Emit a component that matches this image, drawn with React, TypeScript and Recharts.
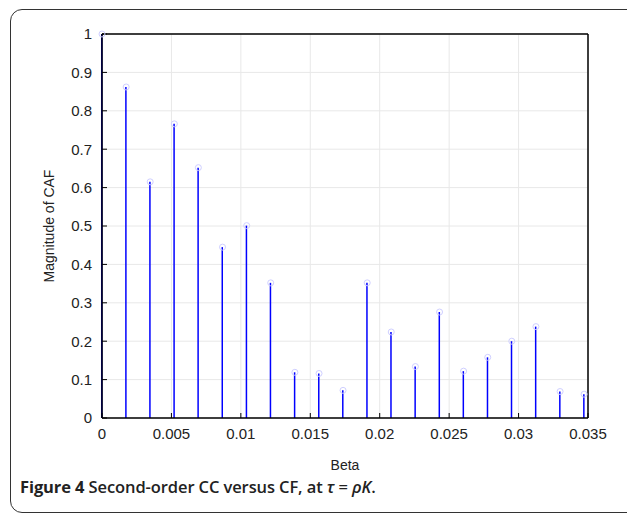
import { Bar, CartesianGrid, ComposedChart, Scatter, XAxis, YAxis } from "recharts";

// Beta positions of the stems
const betas = [
  0, 0.00174, 0.00347, 0.00521, 0.00694, 0.00868, 0.01042, 0.01215, 0.01389, 0.01563, 0.01736,
  0.0191, 0.02083, 0.02257, 0.02431, 0.02604, 0.02778, 0.02951, 0.03125, 0.03299, 0.03472,
];

// Magnitude of CAF
const magnitudes = [
  1.0, 0.862, 0.615, 0.766, 0.652, 0.445, 0.501, 0.352, 0.119, 0.116, 0.072,
  0.352, 0.224, 0.134, 0.276, 0.122, 0.158, 0.2, 0.238, 0.069, 0.062,
];

const xTicks = [0, 0.005, 0.01, 0.015, 0.02, 0.025, 0.03, 0.035];
const yTicks = [0, 0.1, 0.2, 0.3, 0.4, 0.5, 0.6, 0.7, 0.8, 0.9, 1];

const data = betas.map((beta, i) => ({ beta, mag: magnitudes[i] }));

const font = "'Liberation Sans', Arial, sans-serif";
const tickStyle = { fontSize: 15, fill: "#222", fontFamily: font };

const Marker = (props: any) => {
  const { cx, cy } = props;
  return <circle cx={cx} cy={cy} r={3} fill="none" stroke="#cfcfff" strokeWidth={1} />;
};

export default function App() {
  return (
    <div
      style={{
        position: "absolute",
        left: 0,
        top: 0,
        width: 627,
        height: 518,
        overflow: "hidden",
        background: "#fff",
      }}
    >
      <div
        style={{
          position: "absolute",
          left: 10,
          top: 9,
          width: 660,
          height: 502,
          border: "1.5px solid #333",
          borderRadius: 12,
        }}
      />
      <div style={{ position: "absolute", left: 0, top: 0 }}>
        <ComposedChart
          width={627}
          height={518}
          data={data}
          margin={{ top: 33, right: 38, left: 42, bottom: 44 }}
        >
          <CartesianGrid stroke="#e8e8e8" strokeWidth={1} ticks={xTicks} />
          <XAxis
            dataKey="beta"
            type="number"
            domain={[0, 0.035]}
            ticks={xTicks}
            height={56}
            tick={tickStyle}
            tickSize={-5}
            tickMargin={15}
            stroke="#000"
            axisLine={{ stroke: "#000", strokeWidth: 1.5 }}
            tickLine={{ stroke: "#000" }}
            label={{
              value: "Beta",
              position: "insideBottom",
              offset: 4,
              style: { fontSize: 14, fill: "#222", fontFamily: font },
            }}
          />
          <XAxis
            xAxisId="top"
            dataKey="beta"
            type="number"
            orientation="top"
            domain={[0, 0.035]}
            ticks={xTicks}
            height={1}
            tick={false}
            tickSize={-5}
            axisLine={{ stroke: "#000", strokeWidth: 1.5 }}
            tickLine={{ stroke: "#000" }}
          />
          <YAxis
            type="number"
            domain={[0, 1]}
            ticks={yTicks}
            width={60}
            tick={tickStyle}
            tickSize={-5}
            tickMargin={15}
            axisLine={{ stroke: "#000", strokeWidth: 1.5 }}
            tickLine={{ stroke: "#000" }}
            label={{
              value: "Magnitude of CAF",
              angle: -90,
              position: "insideLeft",
              offset: 7,
              style: { textAnchor: "middle", fontSize: 14, fill: "#222", fontFamily: font },
            }}
          />
          <YAxis
            yAxisId="right"
            orientation="right"
            type="number"
            domain={[0, 1]}
            ticks={yTicks}
            width={1}
            tick={false}
            tickSize={-5}
            axisLine={{ stroke: "#000", strokeWidth: 1.5 }}
            tickLine={{ stroke: "#000" }}
          />
          <Bar dataKey="mag" barSize={1.5} fill="#0000ff" isAnimationActive={false} />
          <Scatter dataKey="mag" shape={Marker} isAnimationActive={false} />
        </ComposedChart>
      </div>
      <div
        style={{
          position: "absolute",
          left: 20,
          top: 475,
          fontFamily: "'Open Sans', 'Noto Sans', sans-serif",
          fontSize: 16.5,
          fontWeight: 600,
          color: "#222",
          whiteSpace: "nowrap",
          letterSpacing: -0.1,
        }}
      >
        <span style={{ fontWeight: 700 }}>Figure 4</span> Second-order CC versus CF, at{" "}
        <i>τ</i> = <i>ρK</i>.
      </div>
    </div>
  );
}
